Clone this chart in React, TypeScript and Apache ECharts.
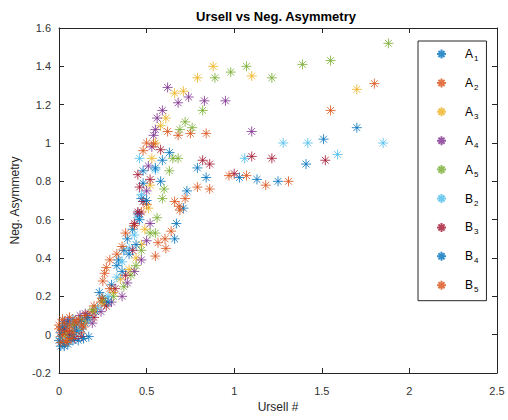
import React, { useEffect, useRef } from "react";
import * as echarts from "echarts";

const seriesNames = ["A1", "A2", "A3", "A4", "A5", "B2", "B3", "B4", "B5"];
const seriesColors = ["#0072BD", "#D95319", "#EDB120", "#7E2F8E", "#77AC30", "#4DBEEE", "#A2142F", "#0072BD", "#D95319"];

const xTicks = [0, 0.5, 1, 1.5, 2, 2.5];
const yTicks = [-0.2, 0, 0.2, 0.4, 0.6, 0.8, 1, 1.2, 1.4, 1.6];

const A1 = [[0.01,-0.06],[0.02,-0.04],[0.03,0.07],[0.04,0.02],[0.05,-0.05],[0.06,-0.02],[0.08,0.08],[0.09,0.05],[0.11,-0.03],[0.13,0.03],[0.15,0.06],[0.17,-0.01],[0.21,0.12],[0.25,0.19],[0.30,0.26],[0.34,0.39],[0.37,0.44],[0.39,0.50],[0.42,0.55],[0.45,0.63],[0.47,0.71],[0.48,0.79],[0.48,0.855],[0.59,0.91],[0.71,0.66],[0.73,0.75],[1.03,0.82],[1.25,0.80],[1.51,1.02],[1.70,1.08]];
const A2 = [[0.00,0.05],[0.01,-0.01],[0.02,0.08],[0.03,0.04],[0.04,-0.02],[0.05,-0.03],[0.06,0.09],[0.07,0.02],[0.08,-0.01],[0.10,0.06],[0.12,0.01],[0.14,0.04],[0.16,0.08],[0.19,0.12],[0.24,0.17],[0.26,0.32],[0.27,0.35],[0.29,0.39],[0.33,0.42],[0.38,0.53],[0.43,0.57],[0.47,0.64],[0.50,0.68],[0.48,0.96],[0.50,1.00],[0.62,1.06],[0.68,1.04],[0.75,1.05],[0.84,1.05],[1.31,0.80],[1.55,1.17],[1.80,1.31]];
const A3 = [[0.03,0.01],[0.06,-0.01],[0.10,0.03],[0.15,0.07],[0.21,0.13],[0.26,0.16],[0.31,0.22],[0.35,0.29],[0.40,0.34],[0.44,0.40],[0.47,0.47],[0.49,0.55],[0.51,0.66],[0.52,0.78],[0.53,0.92],[0.55,1.00],[0.58,1.09],[0.61,1.13],[0.66,1.26],[0.71,1.27],[0.79,1.34],[0.88,1.40],[1.10,1.35],[1.70,1.28]];
const A4 = [[0.02,0.02],[0.05,0.07],[0.09,0.04],[0.12,0.10],[0.15,0.11],[0.19,0.06],[0.24,0.12],[0.30,0.17],[0.36,0.20],[0.39,0.27],[0.43,0.33],[0.47,0.39],[0.50,0.49],[0.52,0.58],[0.46,0.63],[0.50,0.75],[0.51,0.88],[0.53,0.98],[0.54,1.04],[0.55,1.07],[0.56,1.13],[0.59,1.17],[0.62,1.29],[0.68,1.21],[0.74,1.24],[0.83,1.22],[0.95,1.22],[1.10,1.06]];
const A5 = [[0.04,0.00],[0.08,0.05],[0.13,0.08],[0.19,0.13],[0.25,0.18],[0.31,0.20],[0.37,0.25],[0.41,0.31],[0.44,0.36],[0.47,0.44],[0.52,0.53],[0.55,0.53],[0.56,0.61],[0.59,0.71],[0.60,0.76],[0.63,0.855],[0.65,0.92],[0.68,0.92],[0.69,1.07],[0.72,1.11],[0.76,1.08],[0.82,1.17],[0.89,1.34],[0.98,1.37],[1.07,1.40],[1.215,1.34],[1.39,1.41],[1.55,1.43],[1.88,1.52]];
const B2 = [[0.01,-0.02],[0.04,0.05],[0.07,-0.01],[0.11,0.02],[0.17,0.08],[0.22,0.14],[0.28,0.20],[0.33,0.30],[0.36,0.38],[0.40,0.45],[0.43,0.52],[0.45,0.61],[0.47,0.73],[0.46,0.92],[0.55,0.86],[1.06,0.92],[1.28,1.00],[1.42,1.00],[1.59,0.94],[1.85,1.00]];
const B3 = [[0.03,0.03],[0.06,0.00],[0.09,-0.02],[0.13,-0.01],[0.16,0.10],[0.20,0.09],[0.27,0.15],[0.32,0.24],[0.38,0.31],[0.42,0.44],[0.43,0.58],[0.45,0.64],[0.48,0.695],[0.46,0.77],[0.52,0.81],[0.45,0.835],[0.58,0.965],[0.82,0.91],[0.86,0.89],[1.00,0.84],[1.10,0.93],[1.215,0.92],[1.52,0.91]];
const B4 = [[0.00,-0.03],[0.01,0.01],[0.02,0.04],[0.03,-0.06],[0.05,0.06],[0.07,0.00],[0.08,-0.03],[0.10,0.02],[0.12,0.07],[0.14,-0.02],[0.16,0.09],[0.23,0.22],[0.28,0.17],[0.33,0.36],[0.36,0.33],[0.40,0.42],[0.44,0.47],[0.46,0.60],[0.50,0.70],[0.55,0.87],[0.58,0.80],[0.63,0.95],[0.66,0.50],[0.67,0.58],[0.79,0.87],[0.84,0.82],[1.13,0.81],[1.41,0.89]];
const B5 = [[0.00,0.03],[0.01,-0.04],[0.02,0.00],[0.03,0.06],[0.04,-0.04],[0.05,0.02],[0.06,0.05],[0.07,-0.02],[0.08,0.01],[0.09,0.07],[0.11,0.08],[0.13,0.05],[0.15,0.10],[0.20,0.15],[0.245,0.19],[0.25,0.28],[0.29,0.24],[0.36,0.46],[0.54,0.995],[0.55,0.41],[0.565,0.48],[0.605,0.50],[0.61,0.45],[0.64,0.54],[0.685,0.67],[0.69,0.65],[0.66,0.695],[0.72,0.71],[0.79,0.77],[0.86,0.76],[0.97,0.83],[1.07,0.83],[1.18,0.78]];

const seriesData = [A1, A2, A3, A4, A5, B2, B3, B4, B5];

const STAR = "path://M5 0L5 10M0 5L10 5M1.6 1.6L8.4 8.4M1.6 8.4L8.4 1.6";

export default function App() {
  const ref = useRef<HTMLDivElement>(null);
  useEffect(() => {
    if (!ref.current) return;
    const chart = echarts.init(ref.current, undefined, { renderer: "svg" });
    const font = "Liberation Sans, Arial, Helvetica, sans-serif";
    const axisCommon = {
      axisLine: { show: true, onZero: false, lineStyle: { color: "#262626", width: 1 } },
      axisTick: { show: true, inside: true, length: 5, lineStyle: { color: "#262626" } },
      splitLine: { show: false },
    };
    chart.setOption({
      animation: false,
      backgroundColor: "#ffffff",
      textStyle: { fontFamily: font },
      title: {
        text: "Ursell vs Neg. Asymmetry",
        left: 271,
        textAlign: "center",
        top: 5,
        textStyle: { fontSize: 13, fontWeight: "bold", color: "#000", fontFamily: font },
      },
      grid: { left: 59, right: 11, top: 28, bottom: 47 },
      xAxis: [
        {
          type: "value",
          min: xTicks[0],
          max: xTicks[xTicks.length - 1],
          interval: 0.5,
          position: "bottom",
          name: "Ursell #",
          nameLocation: "middle",
          nameGap: 27,
          nameTextStyle: { fontSize: 12, color: "#262626", fontFamily: font },
          axisLabel: { fontSize: 11, color: "#333", margin: 12, fontFamily: font },
          ...axisCommon,
        },
        {
          type: "value",
          min: xTicks[0],
          max: xTicks[xTicks.length - 1],
          interval: 0.5,
          position: "top",
          axisLabel: { show: false },
          ...axisCommon,
        },
      ],
      yAxis: [
        {
          type: "value",
          min: yTicks[0],
          max: yTicks[yTicks.length - 1],
          interval: 0.2,
          position: "left",
          name: "Neg. Asymmetry",
          nameLocation: "middle",
          nameGap: 36,
          nameTextStyle: { fontSize: 12, color: "#262626", fontFamily: font },
          axisLabel: { fontSize: 11, color: "#333", margin: 8, fontFamily: font },
          ...axisCommon,
        },
        {
          type: "value",
          min: yTicks[0],
          max: yTicks[yTicks.length - 1],
          interval: 0.2,
          position: "right",
          axisLabel: { show: false },
          ...axisCommon,
        },
      ],
      legend: {
        orient: "vertical",
        left: 418,
        top: 41,
        data: seriesNames,
        icon: STAR,
        itemWidth: 9,
        itemHeight: 9,
        itemGap: 14.4,
        padding: [7, 8, 7, 18],
        borderColor: "#262626",
        borderWidth: 1,
        backgroundColor: "#fff",
        formatter: (name: string) => `{m|${name[0]}}{s|${name.slice(1)}}`,
        textStyle: {
          fontFamily: font,
          color: "#000",
          rich: {
            m: { fontSize: 12, padding: [0, 0, 0, 14], fontFamily: font, color: "#000" },
            s: { fontSize: 8, padding: [9, 0, 0, 1], fontFamily: font, color: "#000" },
          },
        },
      },
      series: seriesNames.map((n, i) => ({
        name: n,
        type: "scatter",
        xAxisIndex: 0,
        yAxisIndex: 0,
        symbol: STAR,
        symbolSize: 10,
        data: seriesData[i],
        itemStyle: { color: "rgba(0,0,0,0)", borderColor: seriesColors[i], borderWidth: 1 },
        emphasis: { disabled: true },
      })),
    });
    return () => chart.dispose();
  }, []);
  return <div ref={ref} style={{ position: "fixed", left: 0, top: 0, width: 508, height: 420 }} />;
}
